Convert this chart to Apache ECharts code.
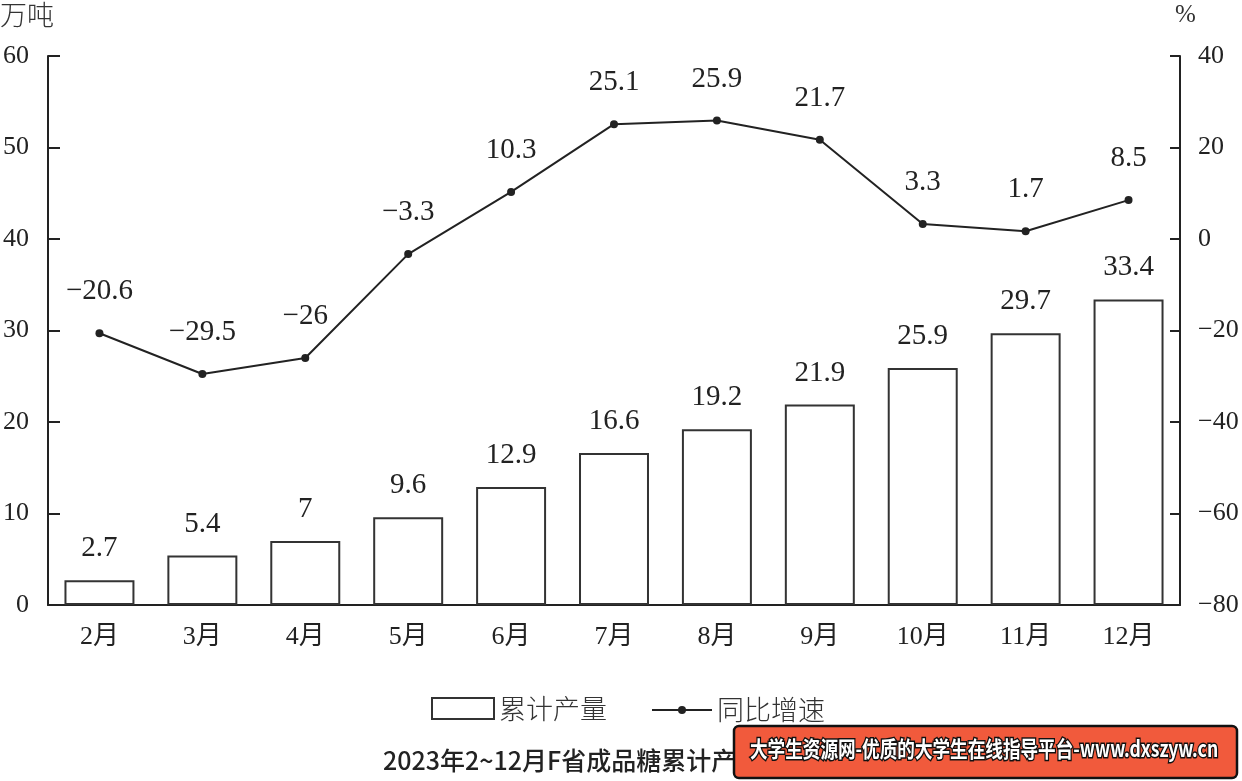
<!DOCTYPE html>
<html>
<head>
<meta charset="utf-8">
<script src="https://cdn.jsdelivr.net/npm/echarts@6/dist/echarts.min.js"></script>
<style>html,body{margin:0;padding:0;background:#fff;}#c{width:1242px;height:781px;}</style>
</head>
<body>
<div id="c"></div>
<script>
var categories = ['2月','3月','4月','5月','6月','7月','8月','9月','10月','11月','12月'];
var output = [2.7, 5.4, 7, 9.6, 12.9, 16.6, 19.2, 21.9, 25.9, 29.7, 33.4];
var growth = [-20.6, -29.5, -26, -3.3, 10.3, 25.1, 25.9, 21.7, 3.3, 1.7, 8.5];
var leftTicks = [0, 60, 10];
var rightTicks = [-80, 40, 20];

var SERIF = '"Liberation Serif","Times New Roman","Noto Sans CJK SC",serif';
var CJK = '"Noto Sans CJK SC",sans-serif';
var ink = '#222';
function fmt(v){ return String(v).replace('-', '\u2212'); }

var chart = echarts.init(document.getElementById('c'), null, {renderer:'canvas'});
chart.setOption({
  animation: false,
  backgroundColor: '#fff',
  grid: {left: 45, right: 62, top: 56, bottom: 176, containLabel: false},
  legend: [
    {data: [{name: '累计产量', icon: 'rect'}], left: 431, top: 695, padding: 0, itemWidth: 62, itemHeight: 21, itemGap: 10,
     textStyle: {fontFamily: CJK, fontSize: 27, fontWeight: 300, color: '#333'}},
    {data: ['同比增速'], left: 651, top: 695, padding: 0, itemWidth: 60, itemHeight: 10,
     textStyle: {fontFamily: CJK, fontSize: 27, fontWeight: 300, color: '#333', lineHeight: 30}}
  ],
  xAxis: {
    type: 'category', data: categories,
    axisLine: {lineStyle: {color: ink, width: 2}},
    axisTick: {show: false},
    axisLabel: {fontFamily: SERIF, fontSize: 26, color: ink, margin: 19}
  },
  yAxis: [
    {type: 'value', min: leftTicks[0], max: leftTicks[1], interval: leftTicks[2],
     splitLine: {show: false},
     axisLine: {show: true, lineStyle: {color: ink, width: 2}},
     axisTick: {show: true, inside: true, length: 12, lineStyle: {color: ink, width: 2}},
     axisLabel: {fontFamily: SERIF, fontSize: 26, color: ink, margin: 19}},
    {type: 'value', min: rightTicks[0], max: rightTicks[1], interval: rightTicks[2],
     splitLine: {show: false},
     axisLine: {show: true, lineStyle: {color: ink, width: 2}},
     axisTick: {show: true, inside: true, length: 10, lineStyle: {color: ink, width: 2}},
     axisLabel: {fontFamily: SERIF, fontSize: 26, color: ink, margin: 18, formatter: fmt}}
  ],
  series: [
    {name: '累计产量', type: 'bar', data: output, yAxisIndex: 0, barCategoryGap: '32%',
     itemStyle: {color: '#fff', borderColor: '#333', borderWidth: 2},
     label: {show: true, position: 'top', distance: 17, fontFamily: SERIF, fontSize: 29, color: ink}},
    {name: '同比增速', type: 'line', data: growth, yAxisIndex: 1,
     symbol: 'circle', symbolSize: 8,
     lineStyle: {color: ink, width: 2}, itemStyle: {color: ink},
     label: {show: true, position: 'top', distance: 23, fontFamily: SERIF, fontSize: 29, color: ink,
             formatter: function(p){ return fmt(p.value); }}}
  ],
  graphic: [
    {type: 'text', left: 0, top: 1, style: {text: '万吨', font: '300 27px ' + CJK, fill: '#333'}},
    {type: 'text', left: 1175, top: 3, style: {text: '%', font: '25px ' + SERIF, fill: '#333'}},
    {type: 'text', x: 383, y: 748, style: {text: '2023年2~12月F省成品糖累计产量及增速', font: '500 25px ' + CJK, fill: '#222'}},
    {type: 'rect', shape: {x: 734, y: 726, width: 503, height: 52, r: 5},
     style: {fill: '#F15A3C', stroke: '#111', lineWidth: 2.5}},
    {type: 'text', x: 750, y: 738, scaleX: 0.8,
     style: {text: '大学生资源网-优质的大学生在线指导平台-www.dxszyw.cn', font: 'bold 22px ' + CJK, fill: '#fff', stroke: '#111', lineWidth: 3}}
  ]
});
</script>
</body>
</html>
